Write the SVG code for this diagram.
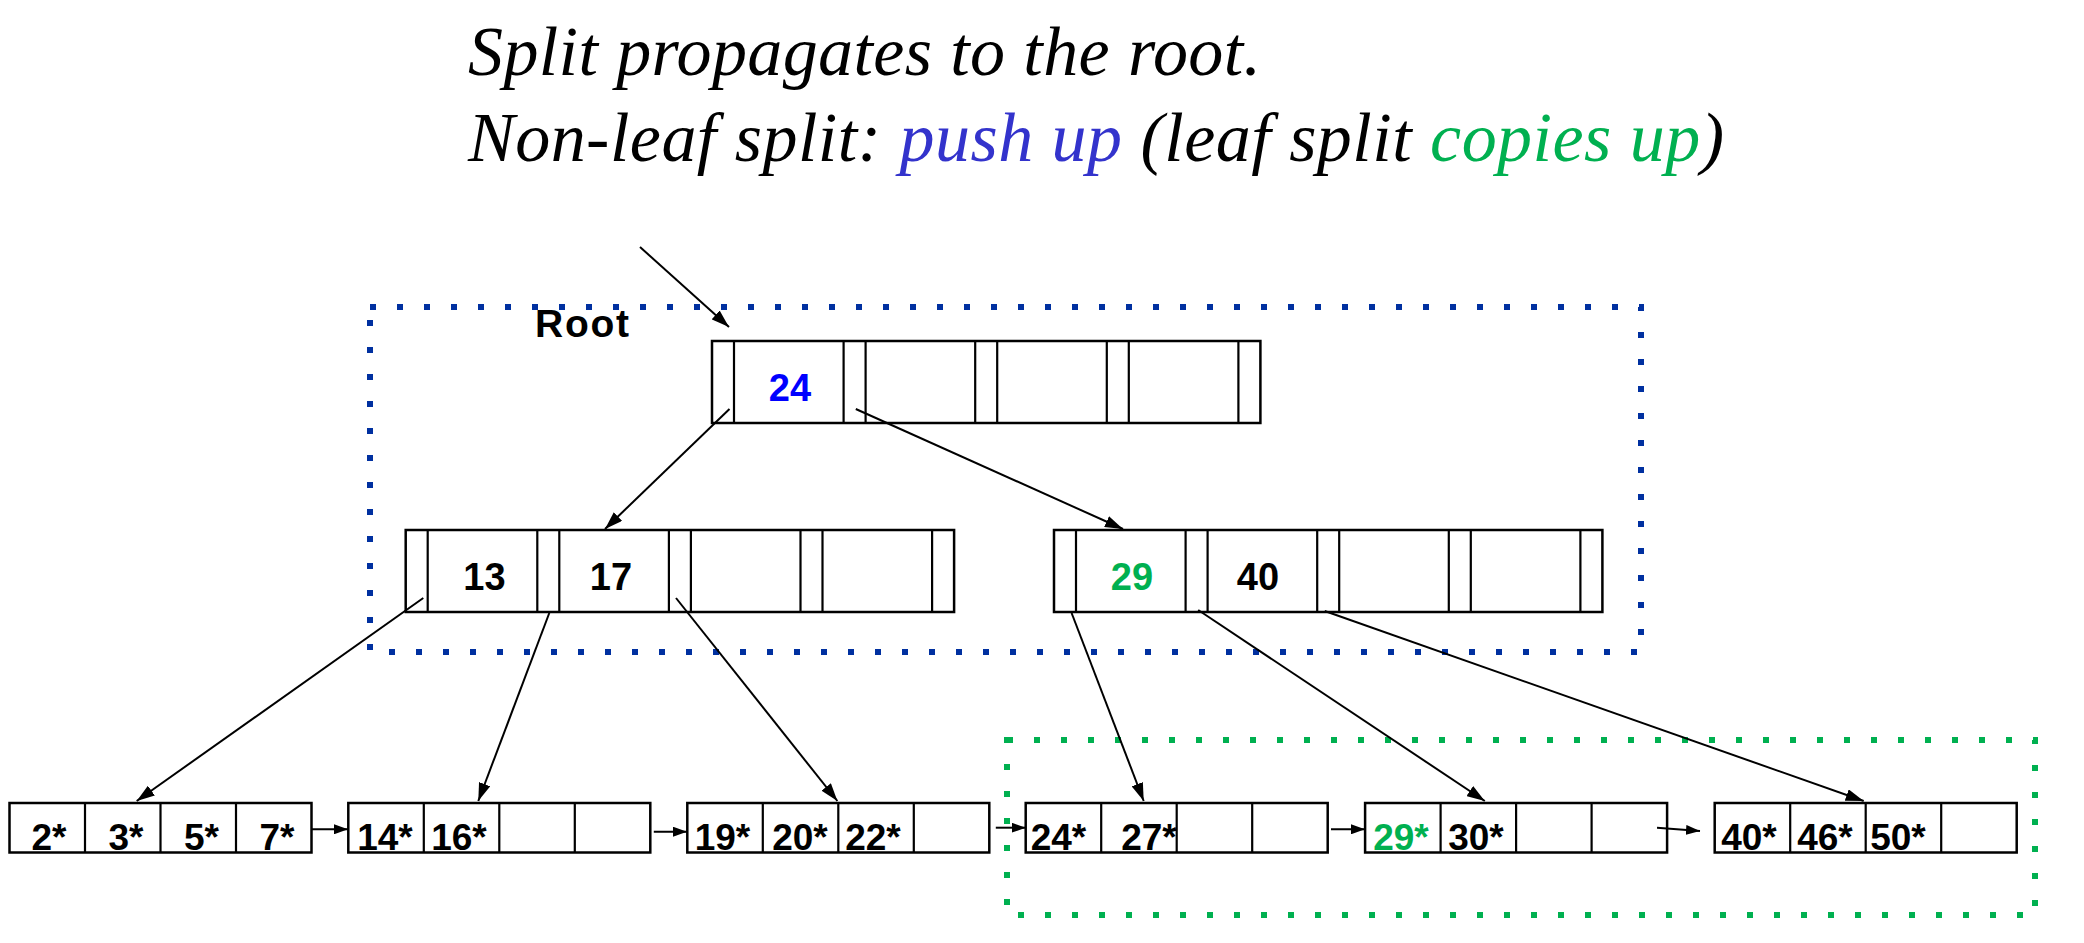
<svg xmlns="http://www.w3.org/2000/svg" width="2084" height="943" viewBox="0 0 2084 943">
<style>
.title{font-family:"Liberation Serif","Times New Roman",serif;font-style:italic;font-size:70px;fill:#000}
.box{fill:none;stroke:#000;stroke-width:2.5}
.sep{stroke:#000;stroke-width:2.2}
.key{font-family:"Liberation Sans",Arial,sans-serif;font-weight:bold;font-size:38px;text-anchor:middle;fill:#000}
.lk{font-family:"Liberation Sans",Arial,sans-serif;font-weight:bold;font-size:37px;text-anchor:middle;fill:#000}
.edge{stroke:#000;stroke-width:2;fill:none;marker-end:url(#ah)}
.link{stroke:#000;stroke-width:2;fill:none;marker-end:url(#ahs)}
.blue{fill:#0000ff}
.green{fill:#00b050}
</style>
<defs>
<marker id="ah" viewBox="0 0 18 12" refX="18" refY="6" markerWidth="18" markerHeight="12" markerUnits="userSpaceOnUse" orient="auto">
<path d="M0,0 L18,6 L0,12 z" fill="#000"/>
</marker>
<marker id="ahs" viewBox="0 0 14 10" refX="14" refY="5" markerWidth="14" markerHeight="10" markerUnits="userSpaceOnUse" orient="auto">
<path d="M0,0 L14,5 L0,10 z" fill="#000"/>
</marker>
</defs>

<g id="title">
<text class="title" x="468" y="75" textLength="793">Split propagates to the root.</text>
<text class="title" x="468" y="161" textLength="1256">Non-leaf split: <tspan fill="#3333cc">push up</tspan> (leaf split <tspan fill="#00b050">copies up</tspan>)</text>
</g>

<g id="regions">
<rect x="370" y="307" width="1271" height="345" fill="none" stroke="#0030a0" stroke-width="6" stroke-dasharray="6 21"/>
<rect x="1007" y="740" width="1028" height="175" fill="none" stroke="#00b050" stroke-width="6" stroke-dasharray="6 21"/>
</g>

<g id="root-label">
<text x="535" y="337" font-family="Liberation Sans, Arial, sans-serif" font-weight="bold" font-size="39" textLength="94">Root</text>
</g>

<g id="root-node">
<rect class="box" x="712" y="341" width="548.4" height="82"/>
<path class="sep" d="M734,341V423 M843.6,341V423 M865.6,341V423 M975.2,341V423 M997.2,341V423 M1106.8,341V423 M1128.8,341V423 M1238.4,341V423"/>
<text class="key blue" x="790" y="401">24</text>
</g>

<g id="inner-left">
<rect class="box" x="405.7" y="530" width="548.4" height="82"/>
<path class="sep" d="M427.7,530V612 M537.3,530V612 M559.3,530V612 M668.9,530V612 M690.9,530V612 M800.5,530V612 M822.5,530V612 M932.1,530V612"/>
<text class="key" x="484.5" y="590">13</text>
<text class="key" x="611" y="590">17</text>
</g>

<g id="inner-right">
<rect class="box" x="1054" y="530" width="548.4" height="82"/>
<path class="sep" d="M1076,530V612 M1185.6,530V612 M1207.6,530V612 M1317.2,530V612 M1339.2,530V612 M1448.8,530V612 M1470.8,530V612 M1580.4,530V612"/>
<text class="key green" x="1132" y="590">29</text>
<text class="key" x="1258" y="590">40</text>
</g>

<g id="leaf1">
<rect class="box" x="9.5" y="803" width="302" height="49.5"/>
<path class="sep" d="M85,803V852.5 M160.5,803V852.5 M236,803V852.5"/>
<text class="lk" x="49" y="850">2*</text>
<text class="lk" x="126" y="850">3*</text>
<text class="lk" x="201.5" y="850">5*</text>
<text class="lk" x="277" y="850">7*</text>
</g>

<g id="leaf2">
<rect class="box" x="348.3" y="803" width="302" height="49.5"/>
<path class="sep" d="M423.8,803V852.5 M499.3,803V852.5 M574.8,803V852.5"/>
<text class="lk" x="385" y="850">14*</text>
<text class="lk" x="459" y="850">16*</text>
</g>

<g id="leaf3">
<rect class="box" x="687.3" y="803" width="302" height="49.5"/>
<path class="sep" d="M762.8,803V852.5 M838.3,803V852.5 M913.8,803V852.5"/>
<text class="lk" x="722.5" y="850">19*</text>
<text class="lk" x="800" y="850">20*</text>
<text class="lk" x="873" y="850">22*</text>
</g>

<g id="leaf4">
<rect class="box" x="1025.7" y="803" width="302" height="49.5"/>
<path class="sep" d="M1101.2,803V852.5 M1176.7,803V852.5 M1252.2,803V852.5"/>
<text class="lk" x="1058.5" y="850">24*</text>
<text class="lk" x="1149" y="850">27*</text>
</g>

<g id="leaf5">
<rect class="box" x="1365.1" y="803" width="302" height="49.5"/>
<path class="sep" d="M1440.6,803V852.5 M1516.1,803V852.5 M1591.6,803V852.5"/>
<text class="lk green" x="1401" y="850">29*</text>
<text class="lk" x="1476" y="850">30*</text>
</g>

<g id="leaf6">
<rect class="box" x="1714.7" y="803" width="302" height="49.5"/>
<path class="sep" d="M1790.2,803V852.5 M1865.7,803V852.5 M1941.2,803V852.5"/>
<text class="lk" x="1749" y="850">40*</text>
<text class="lk" x="1825" y="850">46*</text>
<text class="lk" x="1898" y="850">50*</text>
</g>

<g id="connectors">
<line class="edge" x1="640" y1="247" x2="729" y2="327"/>
<line class="edge" x1="729.5" y1="409" x2="605" y2="529"/>
<line class="edge" x1="855.8" y1="409" x2="1123" y2="529"/>
<line class="edge" x1="423.3" y1="598" x2="136.7" y2="801"/>
<line class="edge" x1="549.3" y1="613" x2="478.3" y2="801"/>
<line class="edge" x1="676" y1="598" x2="837.4" y2="801"/>
<line class="edge" x1="1071.6" y1="613" x2="1143.7" y2="801"/>
<line class="edge" x1="1198.2" y1="610" x2="1484.8" y2="801"/>
<line class="edge" x1="1324.7" y1="611" x2="1863.7" y2="801"/>
<line class="link" x1="311.7" y1="829.3" x2="348" y2="829.3"/>
<line class="link" x1="653.8" y1="831.7" x2="687" y2="831.7"/>
<line class="link" x1="995.8" y1="827.7" x2="1025.7" y2="827.7"/>
<line class="link" x1="1331" y1="829.3" x2="1365" y2="829.3"/>
<line class="link" x1="1657" y1="827.7" x2="1700" y2="831"/>
</g>
</svg>
